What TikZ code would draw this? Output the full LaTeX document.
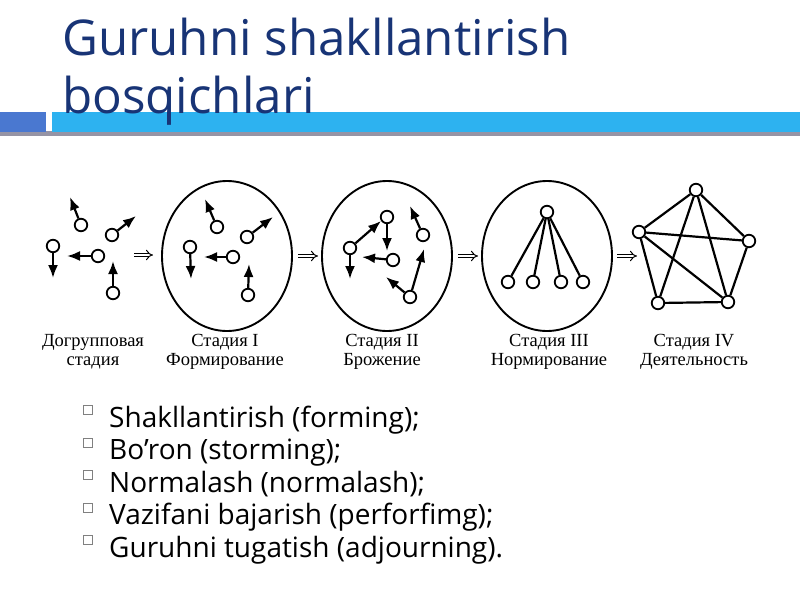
\documentclass[tikz,border=0pt]{standalone}
\usepackage{fontspec}
\setmainfont{Open Sans}
\newfontfamily\scanfont{Liberation Serif}
\usepackage{tikz}
\usetikzlibrary{shapes.geometric,arrows.meta}
\definecolor{TitleBlue}{RGB}{24,52,118}
\definecolor{BarBlue}{RGB}{45,178,240}
\definecolor{BarSquare}{RGB}{74,120,208}
\definecolor{BarShade}{RGB}{150,148,165}
\tikzset{
  dot/.style = {circle,draw,line width = 1.8pt,minimum size = 12.5pt,inner sep = 0pt,fill = white},
  stage/.style = {ellipse,draw,line width = 1.9pt,minimum width = 130pt,minimum height = 150pt},
  link/.style = {line width = 2.2pt},
  imply/.style = {double,double distance = 2.6pt,line width = 1pt,-{Implies}},
  lab/.style = {align = center,font = \scanfont\fontsize{18.5}{19}\selectfont},
  bulletbox/.style = {draw = gray,line width = 0.7pt,minimum size = 9pt,inner sep = 0pt}
}

\begin{document}
\begin{tikzpicture}[x = 1pt,y = -1pt]
		\tikzset{> = {Latex[length = 13pt,width = 10pt]}}
		\useasboundingbox (0,0) rectangle (800,600);
		% header bar
		\fill[BarShade] (0,131) rectangle (800,136);
		\fill[BarSquare] (0,112) rectangle (46,132);
		\fill[BarBlue] (52,112) rectangle (800,132);
		\node[anchor = base west,inner sep = 0pt,text = TitleBlue,font = \fontsize{49.3}{58}\selectfont] (title1) at (62,55) {Guruhni shakllantirish};
		\node[anchor = base west,inner sep = 0pt,text = TitleBlue,font = \fontsize{49.3}{58}\selectfont] (title2) at (62,113) {bosqichlari};
		% pre-group stage
		\node[dot] (a1) at (81,225){};
		\node[dot] (a2) at (112,235){};
		\node[dot] (a3) at (53,246){};
		\node[dot] (a4) at (98,256){};
		\node[dot] (a5) at (113,293){};
		\coordinate (a1t) at (70,197);
		\coordinate (a2t) at (136,216);
		\coordinate (a3t) at (53,278);
		\coordinate (a4t) at (67,256);
		\coordinate (a5t) at (113,261);
		\draw[link,->] (a1) -- (a1t);
		\draw[link,->] (a2) -- (a2t);
		\draw[link,->] (a3) -- (a3t);
		\draw[link,->] (a4) -- (a4t);
		\draw[link,->] (a5) -- (a5t);
		% stage I
		\node[stage] (s1) at (227,256){};
		\node[dot] (b1) at (217,227){};
		\node[dot] (b2) at (247,237){};
		\node[dot] (b3) at (190,247){};
		\node[dot] (b4) at (233,257){};
		\node[dot] (b5) at (248,295){};
		\coordinate (b1t) at (205,199);
		\coordinate (b2t) at (273,217);
		\coordinate (b3t) at (191,279);
		\coordinate (b4t) at (204,257);
		\coordinate (b5t) at (249,264);
		\draw[link,->] (b1) -- (b1t);
		\draw[link,->] (b2) -- (b2t);
		\draw[link,->] (b3) -- (b3t);
		\draw[link,->] (b4) -- (b4t);
		\draw[link,->] (b5) -- (b5t);
		% stage II
		\node[stage] (s2) at (387,256){};
		\node[dot] (c1) at (350,248){};
		\node[dot] (c2) at (387,217){};
		\node[dot] (c3) at (393,260){};
		\node[dot] (c4) at (423,235){};
		\node[dot] (c5) at (410,297){};
		\coordinate (c1t) at (381,221);
		\coordinate (c1d) at (350,279);
		\coordinate (c2t) at (387,251);
		\coordinate (c3t) at (362,257);
		\coordinate (c4t) at (410,206);
		\coordinate (c5t) at (424,249);
		\coordinate (c5d) at (386,277);
		\draw[link,->] (c1) -- (c1t);
		\draw[link,->] (c1) -- (c1d);
		\draw[link,->] (c2) -- (c2t);
		\draw[link,->] (c3) -- (c3t);
		\draw[link,->] (c4) -- (c4t);
		\draw[link,->] (c5) -- (c5t);
		\draw[link,->] (c5) -- (c5d);
		% stage III
		\node[stage] (s3) at (547,256){};
		\node[dot] (lead) at (547,212){};
		\foreach \x [count = \i] in {508,533,561,583}
		{
			\node[dot] (m\i) at (\x,282){};
			\draw[link] (lead) -- (m\i);
		}
		% stage IV
		\node[dot] (q1) at (696,190){};
		\node[dot] (q2) at (639,232){};
		\node[dot] (q3) at (749,241){};
		\node[dot] (q4) at (658,303){};
		\node[dot] (q5) at (728,302){};
		\draw[link] (q1) -- (q2);
		\draw[link] (q1) -- (q3);
		\draw[link] (q2) -- (q3);
		\draw[link] (q2) -- (q4);
		\draw[link] (q3) -- (q5);
		\draw[link] (q4) -- (q5);
		\draw[link] (q1) -- (q4);
		\draw[link] (q1) -- (q5);
		\draw[link] (q2) -- (q5);
		% transitions
		\coordinate (t0a) at (134,255);
		\coordinate (t0b) at (153,255);
		\coordinate (t1a) at (298,256);
		\coordinate (t1b) at (318,256);
		\coordinate (t2a) at (458,256);
		\coordinate (t2b) at (478,256);
		\coordinate (t3a) at (617,256);
		\coordinate (t3b) at (637,256);
		\draw[imply] (t0a) -- (t0b);
		\draw[imply] (t1a) -- (t1b);
		\draw[imply] (t2a) -- (t2b);
		\draw[imply] (t3a) -- (t3b);
		% captions
		\node[lab] (l0) at (93,352) {Догрупповая\\стадия};
		\node[lab] (l1) at (225,352) {Стадия I\\Формирование};
		\node[lab] (l2) at (382,352) {Стадия II\\Брожение};
		\node[lab] (l3) at (549,352) {Стадия III\\Нормирование};
		\node[lab] (l4) at (694,352) {Стадия IV\\Деятельность};
		% list
		\foreach \txt [count = \i] in {{Shakllantirish (forming);},{Bo’ron (storming);},{Normalash (normalash);},{Vazifani bajarish (perforfimg);},{Guruhni tugatish (adjourning).}}
		{
			\node[bulletbox] (box\i) at (88,{410+32.5*(\i-1)}){};
			\node[anchor = base west,inner sep = 0pt,font = \fontsize{28}{32}\selectfont] (item\i) at (109,{427+32.5*(\i-1)}) {\txt};
		}
	\end{tikzpicture}
\end{document}
